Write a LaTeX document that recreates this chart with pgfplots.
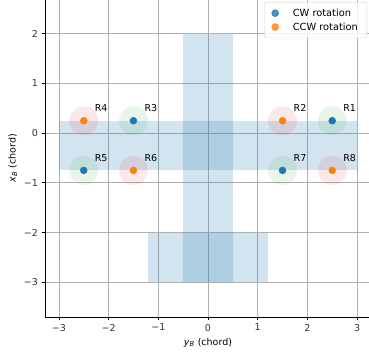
\documentclass[border=0pt]{standalone}
\usepackage{fontspec}
\setmainfont{DejaVu Sans}
\usepackage{pgfplots}
\pgfplotsset{compat=1.18}
\definecolor{tabblue}{HTML}{1F77B4}
\definecolor{taborange}{HTML}{FF7F0E}
\definecolor{tabgreen}{HTML}{2CA02C}
\definecolor{tabred}{HTML}{D62728}
\definecolor{gridgray}{HTML}{B0B0B0}
\newcommand{\fs}{\fontsize{9.5bp}{11bp}\selectfont}
\newcommand{\fl}{\fontsize{9.8bp}{11bp}\selectfont}
\begin{document}
\begin{tikzpicture}
\useasboundingbox (-45bp,-41bp) rectangle (324bp,317bp);
\begin{axis}[
  at={(0,0)}, anchor=south west,
  scale only axis, width=326bp, height=318bp,
  xmin=-3.28, xmax=3.28, ymin=-3.7, ymax=2.7,
  axis x line*=bottom, axis y line*=left,
  axis line style={black, line width=0.8pt},
  tick align=outside, major tick length=3.5bp,
  tick style={black, line width=0.8pt},
  xtick={-3,-2,-1,0,1,2,3}, xticklabels={−3,−2,−1,0,1,2,3},
  ytick={-3,-2,-1,0,1,2}, yticklabels={−3,−2,−1,0,1,2},
  tick label style={font=\fs, text=black!80},
  grid=major, grid style={gridgray, line width=0.8pt},
  xlabel={\textit{y}\textsubscript{\textit{B}} (chord)},
  ylabel={\textit{x}\textsubscript{\textit{B}} (chord)},
  label style={font=\fs},
  legend style={at={(1,1)}, anchor=north east, xshift=-4bp, yshift=-3bp,
    draw=black!20, rounded corners=2bp, fill=white, fill opacity=0.8, text opacity=1,
    font=\fl, row sep=1bp, inner xsep=7bp, inner ysep=4.5bp,
    /tikz/every odd column/.append style={column sep=12bp}},
  legend image code/.code={\fill[#1] (0.3cm,0cm) circle (3.5bp);},
  legend cell align=left,
]
% rectangles
\addplot[forget plot, draw=none, fill=tabblue, fill opacity=0.2] coordinates {(-3,-0.75) (3,-0.75) (3,0.25) (-3,0.25)} -- cycle;
\addplot[forget plot, draw=none, fill=tabblue, fill opacity=0.2] coordinates {(-0.5,-3) (0.5,-3) (0.5,2) (-0.5,2)} -- cycle;
\addplot[forget plot, draw=none, fill=tabblue, fill opacity=0.2] coordinates {(-1.2,-3) (1.2,-3) (1.2,-2) (-1.2,-2)} -- cycle;
% halo circles
\addplot[forget plot, only marks, mark=*, mark size=14.5bp, draw opacity=0, fill=tabgreen, fill opacity=0.1, mark options={draw opacity=0, fill=tabgreen, fill opacity=0.1}]
  coordinates {(2.5,0.25) (-1.5,0.25) (-2.5,-0.75) (1.5,-0.75)};
\addplot[forget plot, only marks, mark=*, mark size=14.5bp, draw opacity=0, fill=tabred, fill opacity=0.1, mark options={draw opacity=0, fill=tabred, fill opacity=0.1}]
  coordinates {(1.5,0.25) (-2.5,0.25) (-1.5,-0.75) (2.5,-0.75)};
% points
\addplot[only marks, mark=*, mark size=3.5bp, color=tabblue, fill=tabblue, mark options={draw=tabblue, fill=tabblue}]
  coordinates {(2.5,0.25) (-1.5,0.25) (-2.5,-0.75) (1.5,-0.75)};
\addlegendentry{CW rotation}
\addplot[only marks, mark=*, mark size=3.5bp, color=taborange, fill=taborange, mark options={draw=taborange, fill=taborange}]
  coordinates {(1.5,0.25) (-2.5,0.25) (-1.5,-0.75) (2.5,-0.75)};
\addlegendentry{CCW rotation}
% labels
\addplot[forget plot, only marks, mark=none, nodes near coords, point meta=explicit symbolic,
  every node near coord/.style={anchor=west, font=\fs, text=black, inner sep=0pt, xshift=0.22*49.7bp, yshift=0.25*49.7bp}]
  table[meta=lab] {
x y lab
2.5 0.25 R1
1.5 0.25 R2
-1.5 0.25 R3
-2.5 0.25 R4
-2.5 -0.75 R5
-1.5 -0.75 R6
1.5 -0.75 R7
2.5 -0.75 R8
};
\end{axis}
\end{tikzpicture}
\end{document}
